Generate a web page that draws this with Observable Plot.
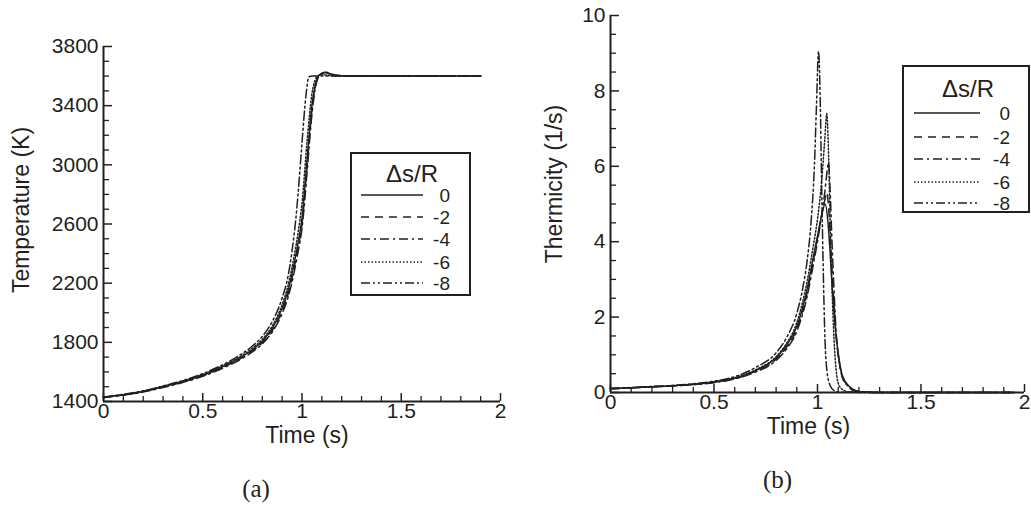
<!DOCTYPE html>
<html><head><meta charset="utf-8">
<script src="https://cdn.jsdelivr.net/npm/d3@7"></script>
<script src="https://cdn.jsdelivr.net/npm/@observablehq/plot@0.6"></script>
<style>
body{margin:0;background:#fff;}
#wrap{position:relative;width:1031px;height:512px;overflow:hidden;background:#fff;}
#wrap svg{position:absolute;top:0;}
</style></head><body><div id="wrap"></div>
<script>
// ---- data ----
const seriesNames = ["0", "-2", "-4", "-6", "-8"];
const dashPatterns = ["none", "8,6", "9,4,2,4", "1.5,2", "9,3,2,3,2,3"];

// Temperature (K) vs time (s)
const tempT_0 = [0,0.1,0.2,0.3,0.4,0.5,0.6,0.7,0.75,0.8,0.85,0.9,0.93,0.96,0.98,1.0,1.025,1.05,1.065,1.08,1.1,1.12,1.15,1.2,1.3,1.9];
const tempK_0 = [1428,1445,1468,1500,1535,1578,1635,1705,1750,1808,1895,2030,2150,2330,2470,2640,3030,3400,3530,3595,3620,3626,3612,3603,3600,3600];
const tempT_2 = [0,0.1,0.2,0.3,0.4,0.5,0.6,0.7,0.75,0.8,0.85,0.9,0.93,0.96,0.98,1.0,1.025,1.05,1.065,1.08,1.1,1.12,1.15,1.2,1.3,1.9];
const tempK_2 = [1427,1444,1466,1498,1532,1574,1630,1698,1742,1798,1880,2010,2125,2300,2440,2600,2980,3370,3515,3590,3616,3624,3611,3602,3600,3600];
const tempT_4 = [0,0.1,0.2,0.3,0.4,0.5,0.6,0.7,0.75,0.8,0.85,0.9,0.93,0.96,0.98,1.0,1.025,1.05,1.065,1.08,1.1,1.12,1.15,1.2,1.3,1.9];
const tempK_4 = [1426,1443,1464,1495,1529,1570,1625,1692,1735,1790,1870,1995,2105,2270,2410,2570,2940,3340,3500,3585,3613,3622,3610,3602,3600,3600];
const tempT_6 = [0,0.1,0.2,0.3,0.4,0.5,0.6,0.7,0.75,0.8,0.85,0.9,0.93,0.96,0.98,1.0,1.025,1.05,1.065,1.08,1.1,1.12,1.15,1.2,1.9];
const tempK_6 = [1429,1447,1470,1503,1539,1583,1641,1713,1760,1820,1910,2055,2185,2380,2540,2740,3150,3480,3570,3600,3610,3608,3603,3600,3600];
const tempT_8 = [0,0.1,0.2,0.3,0.4,0.5,0.6,0.7,0.75,0.8,0.85,0.9,0.93,0.95,0.97,0.98,1.0,1.02,1.035,1.05,1.1,1.9];
const tempK_8 = [1430,1448,1472,1505,1542,1588,1648,1725,1775,1840,1940,2100,2250,2420,2650,2800,3150,3470,3595,3600,3600,3600];

// Thermicity (1/s) vs time (s)
const thT_0 = [0,0.2,0.4,0.5,0.6,0.7,0.8,0.85,0.9,0.95,0.98,1.0,1.02,1.037,1.05,1.06,1.073,1.09,1.105,1.12,1.15,1.18,1.21,1.3,1.95];
const thV_0 = [0.10,0.15,0.22,0.28,0.38,0.58,0.92,1.25,1.75,2.75,3.6,4.15,4.7,5.0,4.55,3.8,2.6,1.5,0.86,0.45,0.18,0.06,0.02,0,0];
const thT_2 = [0,0.2,0.4,0.5,0.6,0.7,0.8,0.85,0.9,0.95,0.98,1.0,1.02,1.035,1.045,1.055,1.065,1.078,1.09,1.105,1.12,1.15,1.18,1.21,1.3,1.95];
const thV_2 = [0.10,0.15,0.21,0.27,0.37,0.56,0.88,1.2,1.68,2.65,3.5,4.1,4.7,5.1,5.3,4.8,3.8,2.5,1.5,0.8,0.42,0.17,0.05,0.02,0,0];
const thT_4 = [0,0.2,0.4,0.5,0.6,0.7,0.8,0.85,0.9,0.95,0.98,1.0,1.02,1.035,1.047,1.053,1.06,1.07,1.08,1.09,1.105,1.12,1.15,1.18,1.3,1.95];
const thV_4 = [0.10,0.15,0.21,0.26,0.36,0.54,0.85,1.15,1.62,2.55,3.4,4.0,4.7,5.3,5.9,6.1,5.5,4.0,2.7,1.6,0.8,0.4,0.15,0.04,0,0];
const thT_6 = [0,0.2,0.4,0.5,0.6,0.7,0.8,0.85,0.9,0.95,0.98,1.0,1.02,1.035,1.045,1.052,1.06,1.07,1.08,1.09,1.1,1.12,1.15,1.3,1.95];
const thV_6 = [0.10,0.15,0.22,0.28,0.39,0.60,0.95,1.3,1.85,2.95,3.9,4.6,5.6,6.7,7.4,6.6,4.8,2.8,1.4,0.6,0.25,0.08,0.02,0,0];
const thT_8 = [0,0.2,0.4,0.5,0.6,0.7,0.8,0.85,0.9,0.93,0.95,0.97,0.985,0.995,1.005,1.013,1.02,1.028,1.035,1.045,1.06,1.08,1.1,1.3,1.95];
const thV_8 = [0.11,0.16,0.23,0.30,0.42,0.66,1.05,1.45,2.1,2.8,3.5,4.6,6.0,7.6,9.05,7.8,5.5,3.2,1.6,0.6,0.2,0.05,0.01,0,0];

const xMajor = [0, 0.5, 1, 1.5, 2];
const tempMajor = [1400, 1800, 2200, 2600, 3000, 3400, 3800];
const thMajor = [0, 2, 4, 6, 8, 10];

// ---- build tables ----
const tempSeries = [[tempT_0,tempK_0],[tempT_2,tempK_2],[tempT_4,tempK_4],[tempT_6,tempK_6],[tempT_8,tempK_8]]
  .map(([t,v],i) => t.map((tt,j) => ({s: seriesNames[i], t: tt, v: v[j]})));
const thSeries = [[thT_0,thV_0],[thT_2,thV_2],[thT_4,thV_4],[thT_6,thV_6],[thT_8,thV_8]]
  .map(([t,v],i) => t.map((tt,j) => ({s: seriesNames[i], t: tt, v: v[j]})));

const ink = "#231f20";
const sans = "'Liberation Sans', Arial, sans-serif";
const serif = "'Liberation Serif', 'Times New Roman', serif";
const xMinor = d3.range(0, 2.0001, 0.1).map(d => +d.toFixed(2)).filter(d => !xMajor.includes(d));

function panel({width, height, mL, mR, mT, mB, yDomain, yMajor, yMinor, data, yLabel, yLabelDx, yLabelDy, xLabelDx, tagText, tagDx}) {
  const innerW = width - mL - mR, innerH = height - mT - mB;
  return Plot.plot({
    width, height, marginLeft: mL, marginRight: mR, marginTop: mT, marginBottom: mB,
    style: {fontFamily: sans, fontSize: "21px", color: ink, background: "transparent", overflow: "visible"},
    x: {domain: [0, 2]},
    y: {domain: yDomain},
    marks: [
      Plot.axisX({ticks: xMajor, tickFormat: d => String(d), tickSize: 0, tickPadding: 2, label: null, fontSize: 21}),
      Plot.axisY({ticks: yMajor, tickFormat: d => String(d), tickSize: 0, tickPadding: 5, label: null, fontSize: 21}),
      Plot.tickX(xMinor, {x: d => d, insetTop: innerH - 5, stroke: ink, strokeWidth: 1.3}),
      Plot.tickX(xMajor, {x: d => d, insetTop: innerH - 8, stroke: ink, strokeWidth: 1.5}),
      Plot.tickY(yMinor, {y: d => d, insetRight: innerW - 6, stroke: ink, strokeWidth: 1.3}),
      Plot.tickY(yMajor, {y: d => d, insetRight: innerW - 9, stroke: ink, strokeWidth: 1.5}),
      ...data.map((rows, i) => Plot.line(rows, {x: "t", y: "v", stroke: ink, strokeWidth: 1.5,
        strokeDasharray: dashPatterns[i] === "none" ? undefined : dashPatterns[i], curve: "monotone-x"})),
      Plot.ruleX([0], {stroke: ink, strokeWidth: 2}),
      Plot.ruleY([yDomain[0]], {stroke: ink, strokeWidth: 2}),
      Plot.text(["Time (s)"], {text: d => d, frameAnchor: "bottom", textAnchor: "middle", dx: xLabelDx, dy: 41, fontSize: 23, fill: ink}),
      Plot.text([tagText], {text: d => d, frameAnchor: "bottom", textAnchor: "middle", dx: tagDx, dy: 95, fontSize: 25, fontFamily: serif, fill: ink}),
      Plot.text([yLabel], {text: d => d, frameAnchor: "left", textAnchor: "middle", rotate: -90, dx: yLabelDx, dy: yLabelDy, fontSize: 23, fill: ink})
    ]
  });
}

function legend(svg, {x, y, w, h, titleX, titleY, lx1, lx2, labX, rows}) {
  const g = d3.select(svg).append("g").attr("font-family", sans).attr("fill", ink);
  g.append("rect").attr("x", x).attr("y", y).attr("width", w).attr("height", h)
    .attr("fill", "#fff").attr("stroke", ink).attr("stroke-width", 2);
  g.append("text").attr("x", titleX).attr("y", titleY).attr("text-anchor", "middle")
    .attr("dominant-baseline", "central").attr("font-size", 24).text("Δs/R");
  seriesNames.forEach((s, i) => {
    g.append("line").attr("x1", lx1).attr("x2", lx2).attr("y1", rows[i]).attr("y2", rows[i])
      .attr("stroke", ink).attr("stroke-width", 1.5)
      .attr("stroke-dasharray", dashPatterns[i] === "none" ? null : dashPatterns[i]);
    g.append("text").attr("x", labX).attr("y", rows[i]).attr("text-anchor", "end")
      .attr("dominant-baseline", "central").attr("font-size", 19).text(s);
  });
}

const wrap = document.getElementById("wrap");

const left = panel({width: 515, height: 512, mL: 103, mR: 15, mT: 46, mB: 111,
  yDomain: [1400, 3800], yMajor: tempMajor, yMinor: d3.range(1400, 3801, 100).filter(d => !tempMajor.includes(d)),
  data: tempSeries, yLabel: "Temperature (K)", yLabelDx: -82, yLabelDy: -14, xLabelDx: 5, tagText: "(a)", tagDx: -46});
left.style.left = "0px";
wrap.appendChild(left);
legend(left, {x: 351, y: 153, w: 119, h: 142, titleX: 412, titleY: 173, lx1: 361, lx2: 423, labX: 450, rows: [195, 217, 239, 262, 283]});

const right = panel({width: 516, height: 512, mL: 95, mR: 7, mT: 15, mB: 120,
  yDomain: [0, 10], yMajor: thMajor, yMinor: d3.range(0, 10.001, 0.5).filter(d => !thMajor.includes(d)),
  data: thSeries, yLabel: "Thermicity (1/s)", yLabelDx: -56, yLabelDy: -20, xLabelDx: -9, tagText: "(b)", tagDx: -40});
right.style.left = "515px";
wrap.appendChild(right);
legend(right, {x: 903 - 515, y: 66, w: 126, h: 146, titleX: 968 - 515, titleY: 88, lx1: 914 - 515, lx2: 980 - 515, labX: 1010 - 515, rows: [113, 137, 159, 182, 203]});
</script>
</body></html>
